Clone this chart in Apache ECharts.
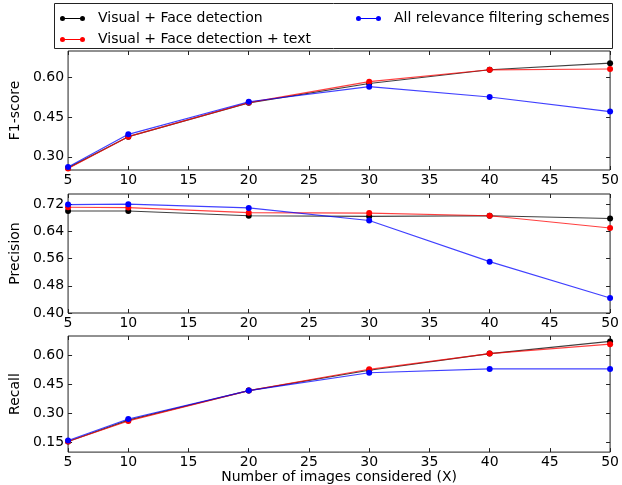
<!DOCTYPE html>
<html>
<head>
<meta charset="utf-8">
<script src="https://cdn.jsdelivr.net/npm/echarts@6/dist/echarts.min.js"></script>
<style>html,body{margin:0;padding:0;background:#fff}#c{width:622px;height:485px}</style>
</head>
<body>
<div id="c"></div>
<script>
const xValues = [5, 10, 20, 30, 40, 50];
const seriesNames = ['Visual + Face detection', 'Visual + Face detection + text', 'All relevance filtering schemes'];
const seriesColors = ['#000000', '#ff0000', '#0000ff'];

const f1Black = [0.258, 0.376, 0.504, 0.577, 0.629, 0.654];
const f1Red   = [0.256, 0.376, 0.505, 0.584, 0.629, 0.632];
const f1Blue  = [0.261, 0.385, 0.508, 0.565, 0.526, 0.471];

const precBlack = [0.700, 0.700, 0.686, 0.684, 0.686, 0.678];
const precRed   = [0.711, 0.710, 0.695, 0.694, 0.686, 0.650];
const precBlue  = [0.719, 0.720, 0.709, 0.672, 0.551, 0.444];

const recBlack = [0.155, 0.265, 0.418, 0.523, 0.609, 0.672];
const recRed   = [0.155, 0.261, 0.418, 0.528, 0.609, 0.658];
const recBlue  = [0.160, 0.271, 0.418, 0.510, 0.530, 0.530];

const f1Ticks = [0.30, 0.45, 0.60];
const precTicks = [0.40, 0.48, 0.56, 0.64, 0.72];
const recTicks = [0.15, 0.30, 0.45, 0.60];

const panelNames = ['F1-score', 'Precision', 'Recall'];
const panelRanges = [[0.25, 0.70], [0.40, 0.75], [0.10, 0.70]];
const panelTicks = [f1Ticks, precTicks, recTicks];
const panelData = [[f1Black, f1Red, f1Blue], [precBlack, precRed, precBlue], [recBlack, recRed, recBlue]];

const FONT = 'DejaVu Sans';
const FS = 14;
const tops = [51, 194, 336];
const H = 119;

const grids = [], xAxes = [], yAxes = [], series = [];
for (let p = 0; p < 3; p++) {
  grids.push({left: 54, right: 10, top: tops[p], height: H, show: true, borderColor: '#222', borderWidth: 1, backgroundColor: 'transparent'});
  xAxes.push({
    type: 'value', gridIndex: p, min: 5, max: 50, interval: 5, position: 'bottom',
    axisLine: {show: false}, splitLine: {show: false},
    axisTick: {show: true, inside: true, length: 4, lineStyle: {color: '#222'}},
    axisLabel: {show: true, margin: 3, color: '#000', fontFamily: FONT, fontSize: FS},
    name: p === 2 ? 'Number of images considered (X)' : '',
    nameLocation: 'middle', nameGap: 17,
    nameTextStyle: {color: '#000', fontFamily: FONT, fontSize: FS}
  });
  xAxes.push({
    type: 'value', gridIndex: p, min: 5, max: 50, interval: 5, position: 'top',
    axisLine: {show: false}, splitLine: {show: false},
    axisTick: {show: true, inside: true, length: 4, lineStyle: {color: '#222'}},
    axisLabel: {show: false}
  });
  const tk = panelTicks[p];
  yAxes.push({
    type: 'value', gridIndex: p, min: panelRanges[p][0], max: panelRanges[p][1], position: 'left',
    axisLine: {show: false}, splitLine: {show: false},
    axisTick: {show: true, inside: true, length: 4, customValues: tk, lineStyle: {color: '#222'}},
    axisLabel: {show: true, margin: 4, customValues: tk, color: '#000', fontFamily: FONT, fontSize: FS,
      formatter: v => Number(v).toFixed(2)},
    name: panelNames[p], nameLocation: 'middle', nameGap: 31,
    nameTextStyle: {color: '#000', fontFamily: FONT, fontSize: FS}
  });
  yAxes.push({
    type: 'value', gridIndex: p, min: panelRanges[p][0], max: panelRanges[p][1], position: 'right',
    axisLine: {show: false}, splitLine: {show: false},
    axisTick: {show: true, inside: true, length: 4, customValues: tk, lineStyle: {color: '#222'}},
    axisLabel: {show: false}
  });
  for (let s = 0; s < 3; s++) {
    series.push({
      type: 'line', name: seriesNames[s], xAxisIndex: p * 2, yAxisIndex: p * 2,
      data: xValues.map((x, i) => [x, panelData[p][s][i]]),
      symbol: 'circle', symbolSize: 6, showSymbol: true,
      color: seriesColors[s],
      itemStyle: {color: seriesColors[s]},
      lineStyle: {width: 1.2, color: seriesColors[s], opacity: 0.75},
      animation: false, z: 2 + s
    });
  }
}

const icon = 'path://M0,2.5A2.5,2.5,0,1,1,5,2.5A2.5,2.5,0,1,1,0,2.5Z M20,2.5A2.5,2.5,0,1,1,25,2.5A2.5,2.5,0,1,1,20,2.5Z M2.5,2H22.5V3H2.5Z';
const legendCommon = {
  orient: 'vertical', top: 10, padding: 0, itemGap: 4, itemWidth: 25, itemHeight: 5, icon: icon,
  textStyle: {color: '#000', fontFamily: FONT, fontSize: FS, lineHeight: 17, padding: [0, 0, 0, 8]},
  selectedMode: false
};

const option = {
  animation: false,
  backgroundColor: '#fff',
  grid: grids,
  xAxis: xAxes,
  yAxis: yAxes,
  legend: [
    Object.assign({left: 60, data: [seriesNames[0], seriesNames[1]]}, legendCommon),
    Object.assign({left: 356, data: [seriesNames[2]]}, legendCommon)
  ],
  graphic: [{
    type: 'rect', left: 54, top: 3, shape: {x: 0, y: 0, width: 558, height: 45},
    style: {fill: 'transparent', stroke: '#222', lineWidth: 1}, silent: true
  }],
  series: series
};

const chart = echarts.init(document.getElementById('c'), null, {renderer: 'canvas'});
chart.setOption(option);
</script>
</body>
</html>
